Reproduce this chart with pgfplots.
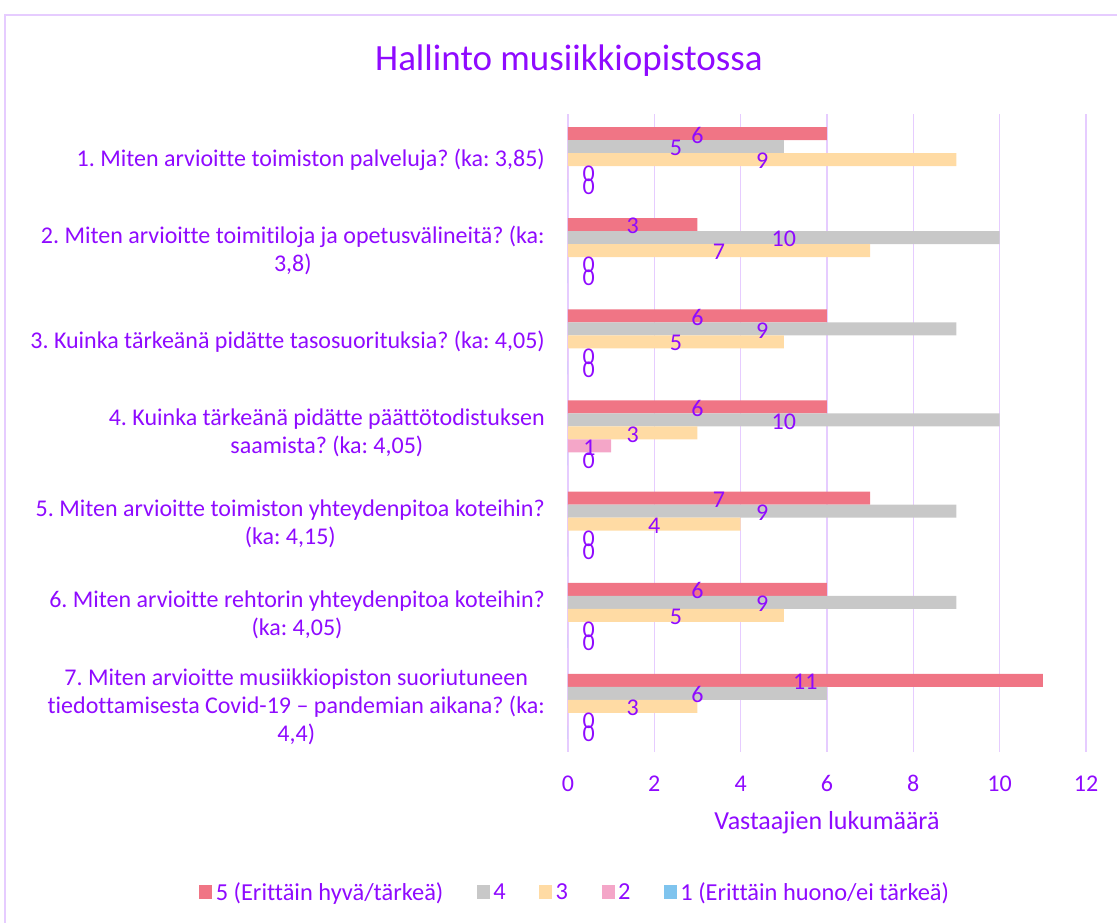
\documentclass[border=0pt]{standalone}
\usepackage{fontspec}
\setmainfont{Carlito}[Ligatures=NoCommon]
\usepackage{pgfplots}
\pgfplotsset{compat=1.18}
\usepackage{pgfplotstable}
\definecolor{cA}{HTML}{F07585}
\definecolor{cB}{HTML}{C8C8C8}
\definecolor{cC}{HTML}{FFDBA4}
\definecolor{cD}{HTML}{F4A6C8}
\definecolor{cE}{HTML}{7FC4EE}
\definecolor{purp}{HTML}{8F0AFF}
\definecolor{gridc}{HTML}{E6CCFF}
\frenchspacing

\pgfplotstableread{
q s5 s4 s3 s2 s1
7 6 5 9 0 0
6 3 10 7 0 0
5 6 9 5 0 0
4 6 10 3 1 0
3 7 9 4 0 0
2 6 9 5 0 0
1 11 6 3 0 0
}\datatab

\pgfplotsset{
  mybar/.style={xbar, bar width=13pt, bar shift=#1, draw=none,
    legend image code/.code={\fill[##1] (0pt,-7pt) rectangle (13pt,7pt);}},
  mylab/.style={draw=none, mark=none, forget plot, nodes near coords, point meta=explicit,
    nodes near coords style={anchor=center, yshift=-1.5pt, text=purp, inner sep=0pt,
      font=\fontsize{24}{28}\selectfont}},
}

\begin{document}
\frenchspacing
\begin{tikzpicture}
\useasboundingbox (-568pt,-171pt) rectangle (549pt,752pt);
\draw[gridc, line width=1.2pt] (-563pt,-171pt) -- (-563pt,737pt) -- (549pt,737pt);
\node[anchor=base, text=purp, font=\fontsize{37}{44}\selectfont, inner sep=0pt] at (1pt,681pt) {Hallinto musiikkiopistossa};
\begin{axis}[
  at={(0pt,0pt)}, anchor=south west,
  width=518pt, height=638pt, scale only axis,
  xmin=0, xmax=12, ymin=0.5, ymax=7.5,
  xtick={0,2,...,12}, ytick={1,...,7},
  yticklabels={
    {7. Miten arvioitte musiikkiopiston suoriutuneen\\tiedottamisesta Covid-19 – pandemian aikana? (ka:\\4,4)},
    {6. Miten arvioitte rehtorin yhteydenpitoa koteihin?\\(ka: 4,05)},
    {5. Miten arvioitte toimiston yhteydenpitoa koteihin?\\(ka: 4,15)},
    {4. Kuinka tärkeänä pidätte päättötodistuksen\\saamista? (ka: 4,05)},
    {3. Kuinka tärkeänä pidätte tasosuorituksia? (ka: 4,05)},
    {2. Miten arvioitte toimitiloja ja opetusvälineitä? (ka:\\3,8)},
    {1. Miten arvioitte toimiston palveluja? (ka: 3,85)}},
  axis line style={draw=none},
  major tick length=0pt,
  xmajorgrids, grid style={gridc, line width=1.3pt},
  /pgf/number format/assume math mode=true,
  tick label style={text=purp},
  xticklabel style={anchor=base, yshift=-40pt, font=\fontsize{24}{28}\selectfont},
  yticklabel style={align=center, anchor=east, inner sep=0pt, xshift=-23pt,
    font=\fontsize{24}{28}\selectfont},
  xlabel={Vastaajien lukumäärä},
  xlabel style={at={(axis description cs:0.5,-0.1207)}, anchor=base, inner sep=0pt,
    font=\fontsize{26}{31}\selectfont, text=purp},
  legend style={at={(axis description cs:0.0154,-0.2194)}, anchor=center, draw=none, fill=none,
    font=\fontsize{24.4}{28}\selectfont, text=purp, nodes={inner sep=3.5pt},
    /tikz/every even column/.append style={column sep=30pt}},
  legend columns=5, legend cell align=left,
  clip=false,
]
\addplot[mybar=26pt, fill=cA] table[x=s5,y=q]{\datatab};
\addplot[mybar=13pt, fill=cB] table[x=s4,y=q]{\datatab};
\addplot[mybar=0pt, fill=cC] table[x=s3,y=q]{\datatab};
\addplot[mybar=-13pt, fill=cD] table[x=s2,y=q]{\datatab};
\addplot[mybar=-26pt, fill=cE] table[x=s1,y=q]{\datatab};
\legend{5 (Erittäin hyvä/tärkeä),4,3,2,1 (Erittäin huono/ei tärkeä)}

\addplot[mylab] table[x expr={ifthenelse(\thisrow{s5}==0,0.48,\thisrow{s5}/2)}, y expr={\thisrow{q}+0.2853}, meta=s5]{\datatab};
\addplot[mylab] table[x expr={ifthenelse(\thisrow{s4}==0,0.48,\thisrow{s4}/2)}, y expr={\thisrow{q}+0.1426}, meta=s4]{\datatab};
\addplot[mylab] table[x expr={ifthenelse(\thisrow{s3}==0,0.48,\thisrow{s3}/2)}, y expr={\thisrow{q}}, meta=s3]{\datatab};
\addplot[mylab] table[x expr={ifthenelse(\thisrow{s2}==0,0.48,\thisrow{s2}/2)}, y expr={\thisrow{q}-0.1426}, meta=s2]{\datatab};
\addplot[mylab] table[x expr={ifthenelse(\thisrow{s1}==0,0.48,\thisrow{s1}/2)}, y expr={\thisrow{q}-0.2853}, meta=s1]{\datatab};
\end{axis}
\end{tikzpicture}
\end{document}
